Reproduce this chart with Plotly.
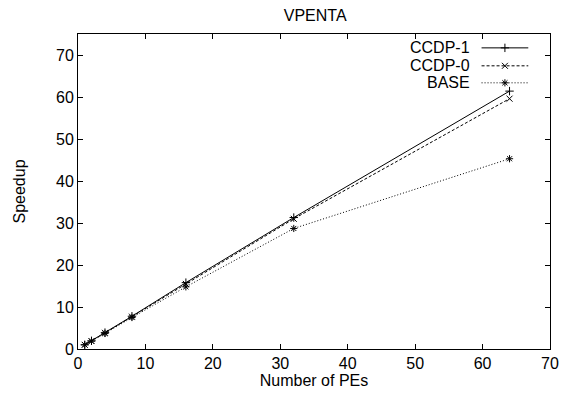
import plotly.graph_objects as go

pes = [1, 2, 4, 8, 16, 32, 64]
ccdp1 = [1.0, 1.95, 3.9, 7.8, 15.8, 31.3, 61.4]
ccdp0 = [1.0, 1.9, 3.85, 7.7, 15.5, 31.0, 59.6]
base = [1.0, 1.85, 3.7, 7.5, 14.8, 28.7, 45.3]

series = [
    ("CCDP-1", ccdp1, "solid", "cross-thin"),
    ("CCDP-0", ccdp0, "3px,2px", "x-thin"),
    ("BASE", base, "1px,2px", "asterisk-open"),
]

FONT = "Liberation Sans, Arial, sans-serif"
FS = 16
fig = go.Figure()
for name, ys, dash, sym in series:
    fig.add_trace(go.Scatter(
        x=pes, y=ys, mode="lines+markers", name=name, showlegend=False,
        line=dict(color="black", width=1, dash=dash),
        marker=dict(symbol=sym, size=6, color="black", line=dict(color="black", width=1)),
    ))

# Manual gnuplot-style legend (text, then line sample with marker) on a helper axis
leg_y = [0.956, 0.899, 0.845]
for (name, ys, dash, sym), ly in zip(series, leg_y):
    fig.add_trace(go.Scatter(
        x=[0.855, 0.954], y=[ly, ly], mode="lines", xaxis="x2", yaxis="y2",
        showlegend=False, hoverinfo="skip",
        line=dict(color="black", width=1, dash=dash)))
    fig.add_trace(go.Scatter(
        x=[0.9045], y=[ly], mode="markers", xaxis="x2", yaxis="y2",
        showlegend=False, hoverinfo="skip",
        marker=dict(symbol=sym, size=6, color="black", line=dict(color="black", width=1))))
    fig.add_annotation(x=0.829, y=ly, xref="x2", yref="y2", text=name, showarrow=False,
                       xanchor="right", yanchor="middle", xshift=3,
                       font=dict(family=FONT, size=FS, color="black"))

axis_common = dict(
    showline=True, linecolor="black", linewidth=1, mirror="ticks",
    ticks="inside", ticklen=5, tickcolor="black", showgrid=False, zeroline=False,
    tickfont=dict(family=FONT, size=FS, color="black"),
)
fig.update_layout(
    width=571, height=398,
    margin=dict(l=78, r=17, t=34, b=49),
    paper_bgcolor="white", plot_bgcolor="white",
    title=dict(text="VPENTA", x=0.552, xanchor="center", y=0.962, yanchor="middle",
               font=dict(family=FONT, size=FS, color="black")),
    xaxis=dict(range=[0, 70], dtick=10, tick0=0,
               title=dict(text="Number of PEs", standoff=3,
                          font=dict(family=FONT, size=FS, color="black")),
               **axis_common),
    yaxis=dict(range=[0, 75], dtick=10, tick0=0,
               title=dict(text="Speedup", standoff=26,
                          font=dict(family=FONT, size=FS, color="black")),
               **axis_common),
    xaxis2=dict(range=[0, 1], overlaying="x", visible=False, anchor="y2"),
    yaxis2=dict(range=[0, 1], overlaying="y", visible=False, anchor="x2"),
)
fig.write_html("out.html")
